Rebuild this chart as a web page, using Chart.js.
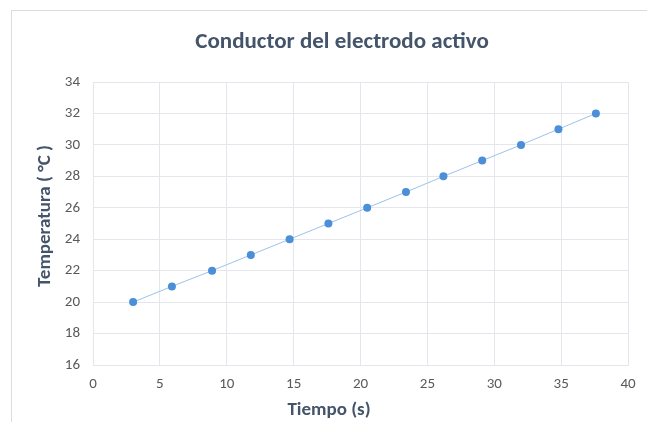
<!DOCTYPE html>
<html><head><meta charset="utf-8">
<script src="https://cdn.jsdelivr.net/npm/chart.js@4"></script>
<style>html,body{margin:0;padding:0;background:#fff;}canvas{display:block;}</style>
</head><body>
<canvas id="c" width="647" height="422"></canvas>
<script>
const tiempo = [3.0, 5.9, 8.9, 11.8, 14.7, 17.6, 20.5, 23.4, 26.2, 29.1, 32.0, 34.8, 37.6];
const temperatura = [20, 21, 22, 23, 24, 25, 26, 27, 28, 29, 30, 31, 32];
const titleText = 'Conductor del electrodo activo';
const xTitle = 'Tiempo (s)';
const yTitle = 'Temperatura ( °C )';

const FONT = 'Carlito, Lato, "Open Sans", sans-serif';
const TEXT_COLOR = '#44546a';

const frame = {
  id: 'frame',
  beforeDraw(chart) {
    const ctx = chart.ctx;
    ctx.save();
    ctx.fillStyle = '#fff';
    ctx.fillRect(0, 0, chart.width, chart.height);
    ctx.strokeStyle = '#d9dde3';
    ctx.lineWidth = 1;
    ctx.strokeRect(11.5, 10.5, 700, 500);
    ctx.restore();
  },
  afterDraw(chart) {
    const ctx = chart.ctx;
    const a = chart.chartArea;
    ctx.save();
    ctx.fillStyle = TEXT_COLOR;
    ctx.textAlign = 'center';
    ctx.textBaseline = 'alphabetic';
    // chart title (centred on the outer frame)
    ctx.font = 'bold 23px ' + FONT;
    ctx.fillText(titleText, 342, a.top - 34);
    // x axis title
    ctx.font = 'bold 19px ' + FONT;
    ctx.fillText(xTitle, a.left + 236, a.bottom + 50);
    // y axis title
    ctx.translate(a.left - 43, a.top + 134);
    ctx.rotate(-Math.PI / 2);
    ctx.fillText(yTitle, 0, 0);
    ctx.restore();
  }
};

new Chart(document.getElementById('c'), {
  type: 'scatter',
  data: {
    datasets: [{
      data: tiempo.map((x, i) => ({x: x, y: temperatura[i]})),
      showLine: true,
      borderColor: '#9cc3ea',
      borderWidth: 1,
      backgroundColor: '#4a8fd8',
      pointBackgroundColor: '#4a8fd8',
      pointBorderColor: '#4a8fd8',
      pointRadius: 4,
      pointBorderWidth: 0
    }]
  },
  options: {
    responsive: false,
    animation: false,
    layout: {padding: {left: 12, right: 19, top: 82, bottom: 0}},
    plugins: {
      legend: {display: false},
      tooltip: {enabled: false},
      title: {display: false}
    },
    scales: {
      x: {
        type: 'linear',
        min: 0, max: 40,
        ticks: {stepSize: 5, color: '#595959', padding: 10, font: {family: FONT, size: 15}},
        grid: {color: '#e3e7ed', drawTicks: false},
        border: {color: '#e3e7ed'},
        afterFit(s) { s.height = 57; }
      },
      y: {
        type: 'linear',
        min: 16, max: 34,
        ticks: {stepSize: 2, color: '#595959', padding: 13, font: {family: FONT, size: 15}},
        grid: {color: '#e3e7ed', drawTicks: false},
        border: {color: '#e3e7ed'},
        afterFit(s) { s.width = 81; }
      }
    }
  },
  plugins: [frame]
});
</script>
</body></html>
